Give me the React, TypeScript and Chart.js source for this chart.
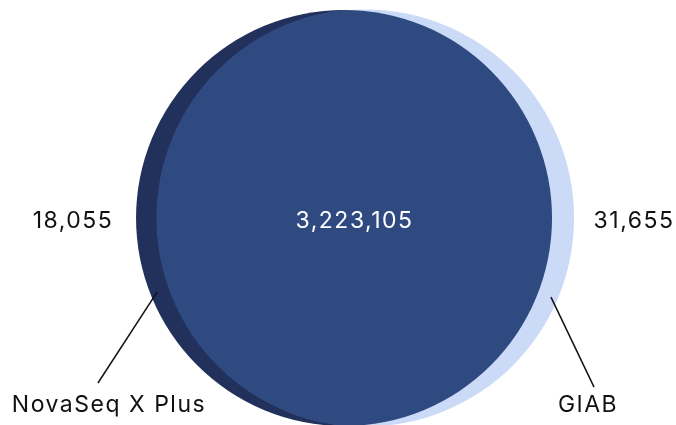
import React, { useEffect, useRef } from 'react';
import { Chart, registerables } from 'chart.js';

Chart.register(...registerables);

// set names and counts
const setNames = ['NovaSeq X Plus', 'GIAB'];
const onlyCounts = [18055, 31655];
const sharedCount = 3223105;

// venn layout, in scale units (1 = radius of the first circle)
const circleCentreX = [0, 0.1034];
const circleRadius = [1, 1.0024];
const fills = ['#22315b', '#cbdaf7'];
const overlapFill = '#2f4a81';

// label anchors in scale units
const countLabelX = [-1.303, 1.394];
const countLabelY = -0.014;
const nameLabelX = [-1.13, 1.173];
const nameLabelY = -0.899;
const leaderFrom = [[-0.899, -0.356], [0.995, -0.38]];
const leaderTo = [[-1.183, -0.793], [1.202, -0.813]];

const FONT = "23px 'Inter', 'Noto Sans', sans-serif";

const circlePath = (ctx: CanvasRenderingContext2D, x: number, y: number, r: number) => {
  ctx.beginPath();
  ctx.arc(x, y, r, 0, Math.PI * 2);
};

const vennPlugin = {
  id: 'venn',
  afterDatasetsDraw(chart: any) {
    const { ctx, scales } = chart;
    const xs = scales.x;
    const ys = scales.y;
    const pts = chart.getDatasetMeta(0).data;
    const radii = circleRadius.map((r) => xs.getPixelForValue(r) - xs.getPixelForValue(0));
    const [a, b] = pts;
    const [ra, rb] = radii;

    ctx.save();
    pts.forEach((p: any, i: number) => {
      circlePath(ctx, p.x, p.y, radii[i]);
      ctx.fillStyle = fills[i];
      ctx.fill();
    });

    // overlap (slightly grown on B's side so no light seam shows)
    circlePath(ctx, a.x, a.y, ra);
    ctx.clip();
    circlePath(ctx, b.x, b.y, rb + 0.6);
    ctx.fillStyle = overlapFill;
    ctx.fill();
    ctx.restore();

    ctx.save();
    ctx.font = FONT;
    (ctx as any).letterSpacing = '1.5px';
    ctx.textAlign = 'center';
    ctx.textBaseline = 'middle';

    // shared count in the middle of the lens
    const lensX = ((b.x - rb) + (a.x + ra)) / 2;
    ctx.fillStyle = '#ffffff';
    ctx.fillText(sharedCount.toLocaleString('en-US'), lensX, ys.getPixelForValue(countLabelY));

    ctx.fillStyle = '#111111';
    onlyCounts.forEach((v, i) => {
      ctx.fillText(v.toLocaleString('en-US'), xs.getPixelForValue(countLabelX[i]), ys.getPixelForValue(countLabelY));
    });
    setNames.forEach((n, i) => {
      ctx.fillText(n, xs.getPixelForValue(nameLabelX[i]), ys.getPixelForValue(nameLabelY));
    });

    ctx.strokeStyle = '#111111';
    ctx.lineWidth = 1.5;
    leaderFrom.forEach((p, i) => {
      ctx.beginPath();
      ctx.moveTo(xs.getPixelForValue(p[0]), ys.getPixelForValue(p[1]));
      ctx.lineTo(xs.getPixelForValue(leaderTo[i][0]), ys.getPixelForValue(leaderTo[i][1]));
      ctx.stroke();
    });
    ctx.restore();
  },
};

const App = (): JSX.Element => {
  const canvasRef = useRef<HTMLCanvasElement>(null);
  const chartRef = useRef<Chart | null>(null);

  useEffect(() => {
    if (!canvasRef.current) return;
    if (chartRef.current) chartRef.current.destroy();

    chartRef.current = new Chart(canvasRef.current, {
      type: 'scatter',
      data: {
        datasets: [
          {
            label: 'sets',
            data: circleCentreX.map((x) => ({ x, y: 0 })),
            pointRadius: 0,
            pointHoverRadius: 0,
          },
        ],
      },
      options: {
        animation: false,
        responsive: true,
        maintainAspectRatio: false,
        events: [],
        layout: { padding: 0 },
        scales: {
          x: { type: 'linear', min: -1.654, max: 1.596, display: false },
          y: { type: 'linear', min: -0.995, max: 1.048, display: false },
        },
        plugins: {
          legend: { display: false },
          tooltip: { enabled: false },
        },
      },
      plugins: [vennPlugin],
    });

    return () => {
      chartRef.current?.destroy();
      chartRef.current = null;
    };
  }, []);

  return (
    <div style={{ position: 'fixed', left: 0, top: 0, width: 676, height: 425, background: '#fff' }}>
      <canvas ref={canvasRef} role="img" aria-label="Venn diagram NovaSeq X Plus vs GIAB"></canvas>
    </div>
  );
};

export default App;
